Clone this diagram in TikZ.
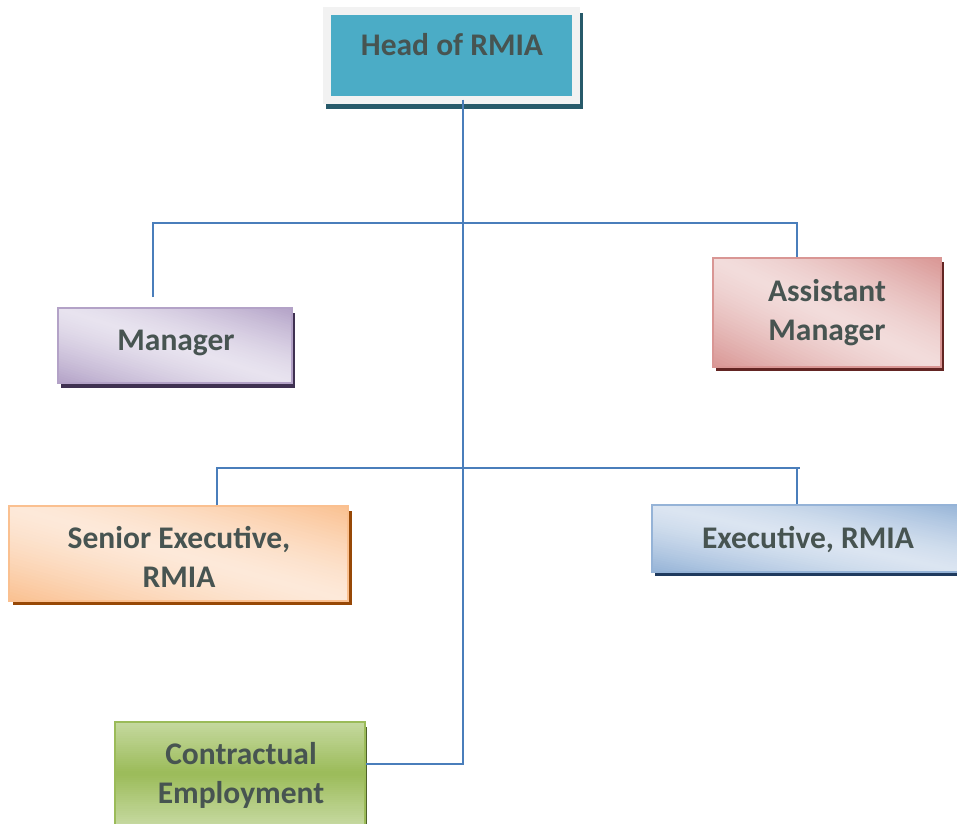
\documentclass[tikz,border=0pt]{standalone}
\usepackage{fontspec}
\setmainfont{Carlito}
\definecolor{txt}{HTML}{475451}
\definecolor{conn}{HTML}{4A7EBB}
\definecolor{headfill}{HTML}{4BACC6}
\definecolor{headframe}{HTML}{F2F2F2}
\definecolor{headshadow}{HTML}{275A6A}
\definecolor{mgrdark}{HTML}{B3A2C7}
\definecolor{mgrlight}{HTML}{E8E3EF}
\definecolor{mgrshadow}{HTML}{3F3151}
\definecolor{asdark}{HTML}{D99694}
\definecolor{aslight}{HTML}{F2DCDB}
\definecolor{asshadow}{HTML}{632523}
\definecolor{sedark}{HTML}{FAC090}
\definecolor{selight}{HTML}{FDE9D9}
\definecolor{seshadow}{HTML}{974806}
\definecolor{exdark}{HTML}{95B3D7}
\definecolor{exlight}{HTML}{DBE5F1}
\definecolor{exshadow}{HTML}{1F3A5E}
\definecolor{cdark}{HTML}{9BBB59}
\definecolor{clight}{HTML}{C6D9A0}
\definecolor{cshadow}{HTML}{4F6228}
\tikzset{
  lbl/.style={font=\fontsize{31.5}{38.5}\selectfont\bfseries, text=txt, inner sep=0pt, align=center},
  rolebox/.style={rectangle, inner sep=0pt, line width=1.5pt},
  conline/.style={draw=conn, line width=2pt},
}
% diagonal gradient: x1 y1 x2 y2 dark light
\newcommand\mydiagfill[6]{%
  \begin{scope}
    \clip (#1,#2) rectangle (#3,#4);
    \pgfmathsetmacro\gcx{(#1+#3)/2}\pgfmathsetmacro\gcy{(#2+#4)/2}%
    \pgfmathsetmacro\gw{#3-#1}\pgfmathsetmacro\gh{#4-#2}%
    \foreach \i in {0,...,59} {
      \pgfmathsetmacro\ga{-1+2*\i/60}%
      \pgfmathsetmacro\gb{\ga+2/60+0.012}%
      \pgfmathsetmacro\gm{100*pow(abs(2*(\i+0.5)/60-1),1.4)}%
      \fill[#5!\gm!#6]
        ({\gcx+\gw*(\ga/2-1.5)},{\gcy+\gh*(-\ga/2-1.5)}) --
        ({\gcx+\gw*(\ga/2+1.5)},{\gcy+\gh*(-\ga/2+1.5)}) --
        ({\gcx+\gw*(\gb/2+1.5)},{\gcy+\gh*(-\gb/2+1.5)}) --
        ({\gcx+\gw*(\gb/2-1.5)},{\gcy+\gh*(-\gb/2-1.5)}) -- cycle;
    }
  \end{scope}}
% vertical gradient: x1 y1 x2 y2 edge middle
\newcommand\myvertfill[6]{%
  \begin{scope}
    \pgfmathsetmacro\gh{#4-#2}%
    \foreach \i in {0,...,49} {
      \pgfmathsetmacro\gm{100*abs(2*(\i+0.5)/50-1)}%
      \fill[#5!\gm!#6] (#1,{#2+\gh*\i/50}) rectangle (#3,{#2+\gh*(\i+1)/50+0.6});
    }
  \end{scope}}
\begin{document}
\begin{tikzpicture}[x=1pt,y=-1pt]
\useasboundingbox (0,0) rectangle (957,823);
% shadows
\fill[headshadow] (326,13) rectangle (583,109);
\fill[mgrshadow] (61,313) rectangle (295,388);
\fill[asshadow] (716,262) rectangle (944,371);
\fill[seshadow] (13,511) rectangle (352,605);
\fill[exshadow] (655,510) rectangle (968,576);
\fill[cshadow] (119,727) rectangle (367,830);
% gradient fills
\mydiagfill{58}{308}{292}{383}{mgrdark}{mgrlight}
\mydiagfill{713}{258}{941}{367}{asdark}{aslight}
\mydiagfill{9}{506}{348}{601}{sedark}{selight}
\mydiagfill{652}{505}{965}{572}{exdark}{exlight}
\myvertfill{115}{722}{365}{825}{clight}{cdark}
% boxes
\node[rectangle, inner sep=0pt, fill=headfill, draw=headframe, line width=8pt,
  minimum width=248.5pt, minimum height=88.5pt] (head) at (451.25,55.25) {};
\node[rolebox, draw=mgrdark, minimum width=234pt, minimum height=75pt] (mgr) at (175,345.5) {};
\node[rolebox, draw=asdark, minimum width=228pt, minimum height=109pt] (asst) at (827,312.5) {};
\node[rolebox, draw=sedark, minimum width=339pt, minimum height=95pt] (sen) at (178.5,553.5) {};
\node[rolebox, draw=exdark, minimum width=313pt, minimum height=67pt] (exe) at (808.5,538.5) {};
\node[rolebox, draw=cdark, minimum width=250pt, minimum height=103pt] (cont) at (240,773.5) {};
% texts
\node[lbl, anchor=base] (headtxt) at (452,55) {Head of RMIA};
\node[lbl, anchor=base] (mgrtxt) at (176,350) {Manager};
\node[lbl, anchor=base] (asttxt) at (827,340) {Assistant\\Manager};
\node[lbl, anchor=base] (sentxt) at (179,587) {Senior Executive,\\RMIA};
\node[lbl, anchor=base] (exetxt) at (808,548) {Executive, RMIA};
\node[lbl, anchor=base] (conttxt) at (241,803) {Contractual\\Employment};
% connectors
\coordinate (j1) at (463,223);
\coordinate (j2) at (463,468);
\coordinate (j3) at (463,764);
\coordinate (m1) at (153,297);
\coordinate (b1r) at (797,223);
\coordinate (b2l) at (217,468);
\coordinate (b2r) at (800,468);
\coordinate (b2e) at (797,468);
\draw[conline] (m1) -- (m1 |- j1) -- (b1r) -- (b1r |- asst.north);
\draw[conline] (b2l |- sen.north) -- (b2l) -- (b2r);
\draw[conline] (b2e) -- (b2e |- exe.north);
\draw[conline] (head.south -| j1) ++(0,-4) -- (j3) -- (j3 -| cont.east);
\end{tikzpicture}
\end{document}
